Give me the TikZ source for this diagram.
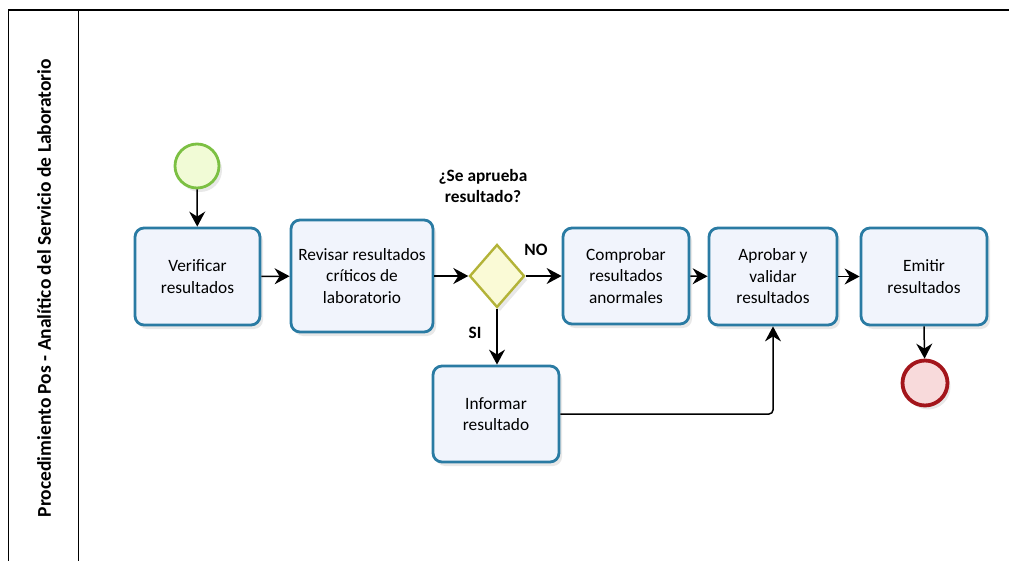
\documentclass[tikz,border=0pt]{standalone}
\usepackage{fontspec}
\setmainfont{Carlito}
\usetikzlibrary{arrows.meta,shapes.geometric,shadows}
\definecolor{taskborder}{HTML}{2A7BA3}
\definecolor{taskfill}{HTML}{F1F4FC}
\definecolor{gwborder}{HTML}{B3B338}
\definecolor{gwfill}{HTML}{FAFAD6}
\definecolor{stborder}{HTML}{7CC043}
\definecolor{stfill}{HTML}{F1FBD6}
\definecolor{enborder}{HTML}{A3151B}
\definecolor{enfill}{HTML}{F8DADB}
\tikzset{
  softshadow/.style={drop shadow={opacity=0.18,shadow xshift=3pt,shadow yshift=-4pt}},
  task/.style={draw=taskborder,fill=taskfill,line width=2.8pt,rounded corners=9pt,
    align=center,font=\fontsize{17.3}{21.5}\selectfont,inner sep=0pt,softshadow},
  gateway/.style={diamond,draw=gwborder,fill=gwfill,line width=2.4pt,
    minimum width=55pt,minimum height=63pt,inner sep=0pt,softshadow},
  startev/.style={circle,draw=stborder,fill=stfill,line width=2.8pt,minimum size=44pt,inner sep=0pt,softshadow},
  endev/.style={circle,draw=enborder,fill=enfill,line width=3.8pt,minimum size=45pt,inner sep=0pt,softshadow},
  flow/.style={line width=1.5pt,-{Stealth[length=15pt,width=16pt,inset=5pt]}},
  lbl/.style={font=\bfseries\fontsize{17.3}{21.5}\selectfont,align=center},
}
\begin{document}
\begin{tikzpicture}[x=1pt,y=-1pt]
\useasboundingbox (0,0) rectangle (1009,561);
% pool frame
\coordinate (tl) at (8.5,10);
\coordinate (tr) at (1009,10);
\coordinate (bl) at (8.5,561);
\coordinate (dt) at (78.5,10);
\coordinate (db) at (78.5,561);
\draw[line width=1.3pt] (bl) -- (tl) -- (tr);
\draw[line width=1.3pt] (dt) -- (db);
\node[rotate=90,font=\bfseries\fontsize{19.5}{22}\selectfont] (title) at (44,288)
  {Procedimiento Pos - Analítico del Servicio de Laboratorio};
% nodes
\node[startev] (start) at (197,166) {};
\node[task,minimum width=125pt,minimum height=97pt] (verif) at (197.5,276.5) {Verificar\\resultados};
\node[task,minimum width=142pt,minimum height=112pt] (revis) at (362,276) {Revisar resultados\\críticos de\\laboratorio};
\node[gateway] (gw) at (497,276) {};
\node[task,minimum width=126pt,minimum height=96pt] (compr) at (626,276) {Comprobar\\resultados\\anormales};
\node[task,minimum width=128pt,minimum height=97pt] (aprob) at (773,276.5) {Aprobar y\\validar\\resultados};
\node[task,minimum width=126pt,minimum height=97pt] (emit) at (924,276.5) {Emitir\\resultados};
\node[endev] (end) at (925,383) {};
\node[task,minimum width=126pt,minimum height=96pt] (info) at (496,414) {Informar\\resultado};
% labels
\node[lbl] (q) at (483,186) {¿Se aprueba\\resultado?};
\node[lbl] (no) at (536,250) {NO};
\node[lbl] (si) at (475,333) {SI};
% flows
\draw[flow] (start) -- (verif);
\draw[flow] (verif) -- (revis);
\draw[flow] (revis) -- (gw);
\draw[flow] (gw) -- (compr);
\draw[flow] (compr) -- (aprob);
\draw[flow] (aprob) -- (emit);
\draw[flow] (emit.south) -- (end);
\draw[flow] (gw.south) -- (info.north -| gw.south);
\coordinate (corner) at (aprob.south |- info.east);
\draw[flow,rounded corners=4pt] (info.east) -- (corner) -- (aprob.south);
\end{tikzpicture}
\end{document}
